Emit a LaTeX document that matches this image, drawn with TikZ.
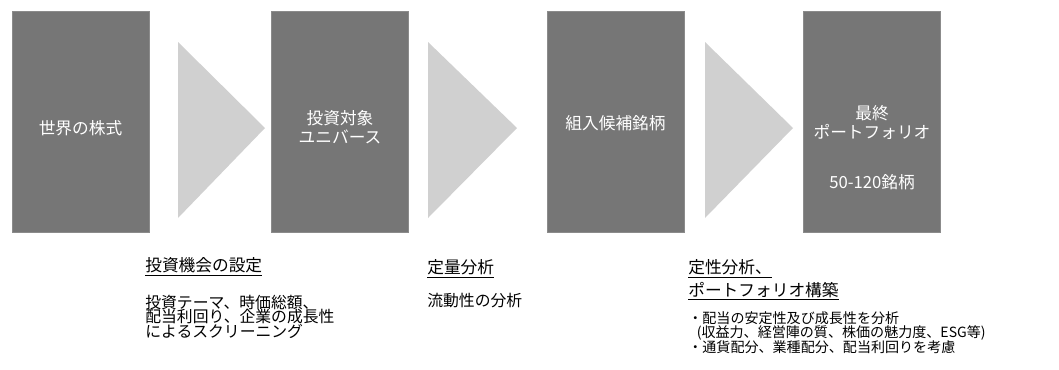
\documentclass[tikz,border=0pt]{standalone}
\usepackage{fontspec}
\setmainfont{Noto Sans CJK JP}
\definecolor{stagegray}{HTML}{767676}
\definecolor{arrowgray}{HTML}{D0D0D0}
\newcommand\tightlines{\setlength{\lineskiplimit}{-100pt}\setlength{\lineskip}{0pt}}

\begin{document}
\begin{tikzpicture}[x=0.02cm, y=-0.02cm,
	stagebox/.style={fill=stagegray, draw=stagegray!85, line width=0.4pt, minimum width=2.74cm, minimum height=4.42cm, inner sep=0pt},
	stagetext/.style={text=white, align=center, inner sep=0pt, font=\fontsize{9.5}{10.8}\selectfont\tightlines},
	flowarrow/.style={fill=arrowgray},
	headtext/.style={anchor=base west, align=left, inner sep=0pt, font=\fontsize{9.5}{13}\selectfont\tightlines},
	bodytext/.style={anchor=base west, align=left, inner sep=0pt, font=\fontsize{9}{8.2}\selectfont\tightlines},
	notetext/.style={anchor=base west, align=left, inner sep=0pt, font=\fontsize{8}{8.2}\selectfont\tightlines}]

\def\width{1059}
\def\height{369}
\def\my{122}

\path [use as bounding box] (0,0) rectangle (\width,\height);

% STAGES
\node [stagebox] (world) at (80.5,\my) {};
\node [stagebox] (universe) at (340,\my) {};
\node [stagebox] (candidate) at (615.5,\my) {};
\node [stagebox] (portfolio) at (872,\my) {};

\node [stagetext] (worldlbl) at (80.5,128) {世界の株式};
\node [stagetext] (universelbl) at (340,127.5) {投資対象\\ユニバース};
\node [stagetext] (candidatelbl) at (615.5,123) {組入候補銘柄};
\node [stagetext] (portfoliolbl) at (872,122.5) {最終\\ポートフォリオ};
\node [stagetext] (countlbl) at (872,182) {50-120銘柄};

% ARROWS
\fill [flowarrow] (178,42) -- (265,128) -- (178,218) -- cycle;
\fill [flowarrow] (428,42) -- (517,128) -- (428,218) -- cycle;
\fill [flowarrow] (705,42) -- (793,128) -- (705,218) -- cycle;

% NOTES (base = baseline of the last line)
\node [headtext] (screenhead) at (145,271) {\underline{投資機会の設定}};
\node [bodytext] (screenbody) at (145,337) {投資テーマ、時価総額、\\配当利回り、企業の成長性\\によるスクリーニング};

\node [headtext] (quanthead) at (427,273) {\underline{定量分析}};
\node [bodytext] (quantbody) at (427,306) {流動性の分析};

\node [headtext] (qualhead) at (688,296) {\underline{定性分析、}\\\underline{ポートフォリオ構築}};
\node [notetext] (qualbody) at (688,352) {・配当の安定性及び成長性を分析\\\hspace*{0.6em}(収益力、経営陣の質、株価の魅力度、ESG等)\\・通貨配分、業種配分、配当利回りを考慮};

\end{tikzpicture}
\end{document}
